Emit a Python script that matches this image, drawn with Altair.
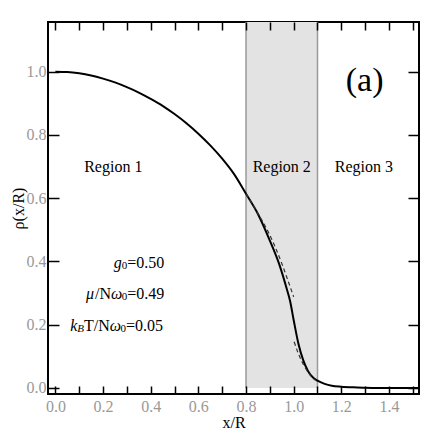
import altair as alt
import pandas as pd

# solid curve
xs = [0.0, 0.05, 0.1, 0.15, 0.2, 0.25, 0.3, 0.35, 0.4, 0.45, 0.5, 0.55, 0.6, 0.65, 0.7,
      0.75, 0.8, 0.85, 0.9, 0.94, 0.97, 0.985, 1.0, 1.02, 1.04, 1.06, 1.08, 1.1, 1.13,
      1.16, 1.2, 1.25, 1.3, 1.4, 1.53]
rho = [1.0, 0.999, 0.995, 0.988, 0.978, 0.966, 0.951, 0.934, 0.914, 0.892, 0.866, 0.837,
       0.804, 0.767, 0.725, 0.676, 0.614, 0.55, 0.466, 0.39, 0.316, 0.275, 0.215, 0.14,
       0.088, 0.054, 0.034, 0.023, 0.013, 0.007, 0.004, 0.002, 0.001, 0.0, 0.0]

# dashed approximations
dash1_x = [0.8, 0.85, 0.893, 0.95, 0.975, 1.0]
dash1_y = [0.614, 0.552, 0.494, 0.394, 0.342, 0.288]
dash2_x = [1.002, 1.02, 1.042, 1.065, 1.09]
dash2_y = [0.146, 0.108, 0.073, 0.045, 0.025]

# shaded region 2
band_x = [0.8]
band_x2 = [1.1]

x_ticks = [round(i * 0.1, 1) for i in range(16)]
x_labels = [0.0, 0.2, 0.4, 0.6, 0.8, 1.0, 1.2, 1.4]
y_ticks = [0.0, 0.2, 0.4, 0.6, 0.8, 1.0]

region_labels = ["Region 1", "Region 2", "Region 3"]
region_x = [0.243, 0.95, 1.295]
region_y = [0.698, 0.698, 0.698]

XD = [-0.031, 1.526]
YD = [-0.019, 1.157]
W, H = 371, 372
FONT = "Liberation Serif"

xs_scale = alt.Scale(domain=XD, nice=False, zero=False)
ys_scale = alt.Scale(domain=YD, nice=False, zero=False)

curve = pd.DataFrame({"x": xs, "y": rho})
d1 = pd.DataFrame({"x": dash1_x, "y": dash1_y, "s": "a"})
d2 = pd.DataFrame({"x": dash2_x, "y": dash2_y, "s": "b"})
dashed = pd.concat([d1, d2])
band = pd.DataFrame({"x": band_x, "x2": band_x2, "y": [0.0], "y2": [YD[1]]})
edges = pd.DataFrame({"x": band_x + band_x2, "y": [0.0, 0.0], "y2": [YD[1], YD[1]]})
regions = pd.DataFrame({"t": region_labels, "x": region_x, "y": region_y})

# parameter annotations, built from pieces (main text + subscripts);
# dx/dy are pixel shifts of each piece from the line's anchor
pieces = pd.DataFrame({
    "t":  ["g", "0", "=0.50",
           "μ", "/N", "ω", "0", "=0.49",
           "k", "B", "T/N", "ω", "0", "=0.05"],
    "x":  [0.245] * 3 + [0.128] * 5 + [0.062] * 6,
    "y":  [0.395] * 3 + [0.297] * 5 + [0.196] * 6,
    "dx": [0, 8, 13.5,
           0, 9.2, 25.2, 35.9, 41.4,
           0, 7.1, 13.8, 39.6, 50.3, 55.8],
    "dy": [0, 3, 0,
           0, 0, 0, 3, 0,
           0, 3, 0, 0, 3, 0],
    "size": [16, 11, 16,
             16, 16, 16, 11, 16,
             16, 11, 16, 16, 11, 16],
    "italic": [1, 0, 0,
               1, 0, 1, 0, 0,
               1, 1, 0, 1, 0, 0],
})

ann = pd.DataFrame({"t": ["(a)"], "x": [1.298], "y": [0.972]})

label_x_axis = alt.Axis(values=x_labels, format=".1f", ticks=False, domain=False,
                        labelPadding=4, title="x/R", titlePadding=0, orient="bottom",
                        grid=False)
label_y_axis = alt.Axis(values=y_ticks, format=".1f", ticks=False, domain=False,
                        labelPadding=2, title="ρ(x/R)", titlePadding=0, orient="left",
                        grid=False)

def tick_axis(orient, size):
    return alt.Axis(values=x_ticks if orient in ("bottom", "top") else y_ticks,
                    labels=False, domain=False, ticks=True, tickSize=size,
                    offset=-size, title=None, orient=orient, grid=False,
                    tickColor="black", tickWidth=1.5, zindex=1)

band_layer = alt.Chart(band).mark_rect(color="#e3e3e3").encode(
    x=alt.X("x:Q", scale=xs_scale, axis=label_x_axis),
    x2="x2:Q",
    y=alt.Y("y:Q", scale=ys_scale, axis=label_y_axis),
    y2="y2:Q",
)

edge_layer = alt.Chart(edges).mark_rule(color="#9a9a9a", strokeWidth=1.5).encode(
    x=alt.X("x:Q", scale=xs_scale, axis=tick_axis("bottom", 8)),
    y=alt.Y("y:Q", scale=ys_scale, axis=tick_axis("left", 11)),
    y2="y2:Q",
)

curve_layer = alt.Chart(curve).mark_line(color="black", strokeWidth=2,
                                         interpolate="monotone").encode(
    x=alt.X("x:Q", scale=xs_scale, axis=tick_axis("top", 8)),
    y=alt.Y("y:Q", scale=ys_scale, axis=tick_axis("right", 11)),
)

dash_layer = alt.Chart(dashed).mark_line(color="#333333", strokeWidth=1.2,
                                         strokeDash=[4, 3],
                                         interpolate="monotone").encode(
    x=alt.X("x:Q", scale=xs_scale, axis=None),
    y=alt.Y("y:Q", scale=ys_scale, axis=None),
    detail="s:N",
)

region_layer = alt.Chart(regions).mark_text(font=FONT, fontSize=16, color="black").encode(
    x=alt.X("x:Q", scale=xs_scale, axis=None),
    y=alt.Y("y:Q", scale=ys_scale, axis=None),
    text="t:N",
)

xpx = (XD[1] - XD[0]) / W
ypx = (YD[1] - YD[0]) / H

def piece_layer(italic):
    return alt.Chart(pieces).transform_filter(
        alt.datum.italic == italic
    ).transform_calculate(
        px=f"datum.x + datum.dx * {xpx}",
        py=f"datum.y - datum.dy * {ypx}",
    ).mark_text(font=FONT, color="black", align="left",
                fontStyle="italic" if italic else "normal").encode(
        x=alt.X("px:Q", scale=xs_scale, axis=None),
        y=alt.Y("py:Q", scale=ys_scale, axis=None),
        text="t:N",
        size=alt.Size("size:Q", scale=None, legend=None),
    )

ann_layer = alt.Chart(ann).mark_text(font=FONT, fontSize=34, color="black").encode(
    x=alt.X("x:Q", scale=xs_scale, axis=None),
    y=alt.Y("y:Q", scale=ys_scale, axis=None),
    text="t:N",
)

chart = alt.layer(
    band_layer, edge_layer, curve_layer, dash_layer, region_layer,
    piece_layer(0), piece_layer(1), ann_layer
).resolve_axis(x="independent", y="independent").properties(
    width=W, height=H,
    autosize=alt.AutoSizeParams(type="none"),
    padding={"left": 40, "top": 14, "right": 9, "bottom": 38},
).configure_view(
    stroke="black", strokeWidth=2
).configure_axis(
    labelFont=FONT, labelFontSize=16, labelColor="#999999",
    titleFont=FONT, titleFontSize=16, titleFontWeight="normal", titleColor="black",
)

chart.save("out.html", embed_options={"renderer": "svg", "actions": False})
